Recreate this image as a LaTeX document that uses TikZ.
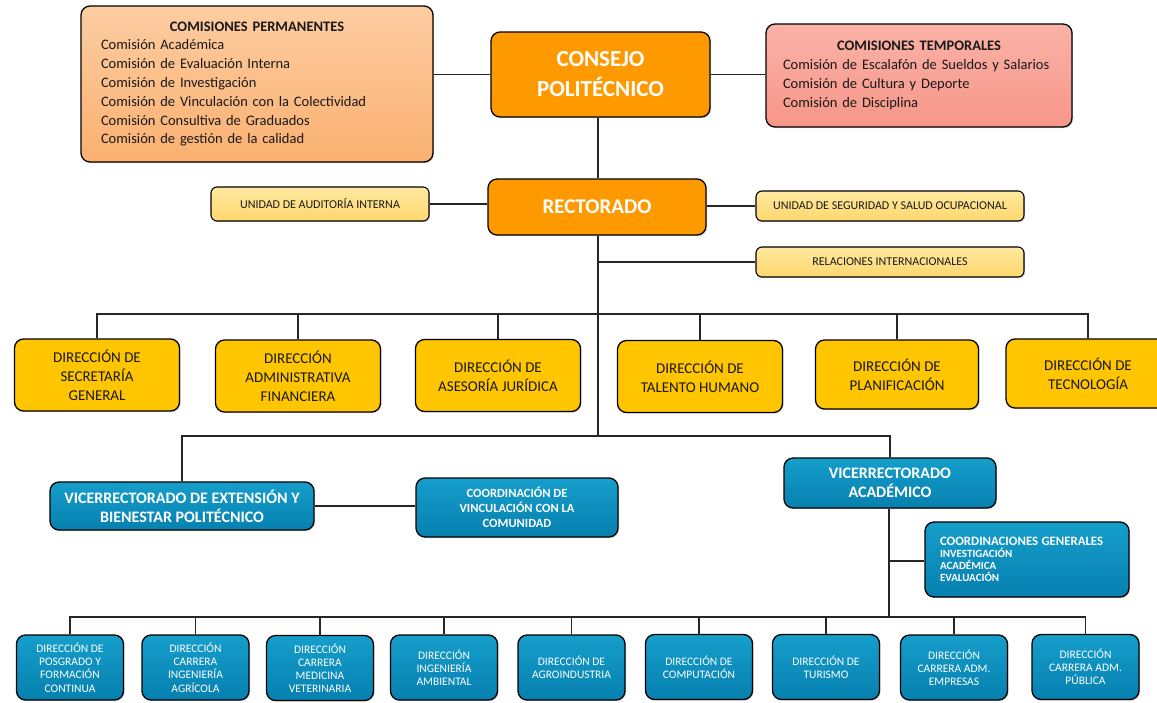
\documentclass[tikz,border=0pt]{standalone}
\usepackage{fontspec}
\setmainfont{Carlito}
\usetikzlibrary{shadows}
\definecolor{permT}{RGB}{253,205,162}
\definecolor{permB}{RGB}{250,176,112}
\definecolor{tempT}{RGB}{251,178,168}
\definecolor{tempB}{RGB}{246,150,136}
\definecolor{orgO}{RGB}{255,153,0}
\definecolor{unitT}{RGB}{255,233,160}
\definecolor{unitB}{RGB}{255,215,110}
\definecolor{gold}{RGB}{255,198,0}
\definecolor{blueT}{RGB}{22,158,203}
\definecolor{blueB}{RGB}{6,128,175}
\definecolor{ink}{RGB}{25,25,25}
\tikzset{
  box/.style={draw=black, line width=1.3pt, rounded corners=9pt, align=center, inner sep=0pt,
    drop shadow={shadow xshift=1.2pt, shadow yshift=-1.2pt, opacity=.3}},
  permbox/.style={box, top color=permT, bottom color=permB, text=ink, align=left,
    font={\fontsize{14.5}{18.8}\selectfont}},
  tempbox/.style={permbox, top color=tempT, bottom color=tempB},
  topbox/.style={box, fill=orgO, text=white},
  unitbox/.style={box, top color=unitT, bottom color=unitB, text=ink, line width=1.1pt, rounded corners=6pt,
    font={\fontsize{12}{14}\selectfont}},
  dirbox/.style={box, fill=gold, text=ink, minimum width=165pt, minimum height=72pt,
    font={\fontsize{15}{19}\selectfont}},
  bluebox/.style={box, top color=blueT, bottom color=blueB, text=white},
  vicebox/.style={bluebox, font={\bfseries\fontsize{16}{19}\selectfont}},
  smallblue/.style={bluebox, minimum width=107pt, minimum height=65pt,
    font={\fontsize{11.5}{13.2}\selectfont}},
  conn/.style={draw=black!85, line width=1.1pt}
}
\begin{document}
\begin{tikzpicture}[x=1pt,y=-1pt]
\useasboundingbox[fill=white] (0,0) rectangle (1157,702);

% top level
\node[permbox, minimum width=352pt, minimum height=156pt, text width=312pt] (perm) at (257,84)
  {\makebox[312pt][c]{\bfseries COMISIONES PERMANENTES}\\
   Comisión Académica\\
   Comisión de Evaluación Interna\\
   Comisión de Investigación\\
   Comisión de Vinculación con la Colectividad\\
   Comisión Consultiva de Graduados\\
   Comisión de gestión de la calidad};
\node[topbox, minimum width=219pt, minimum height=85pt, font={\bfseries\fontsize{23}{30}\selectfont}] (consejo) at (600.5,74.5)
  {CONSEJO\\POLITÉCNICO};
\node[tempbox, minimum width=306pt, minimum height=103pt, text width=272pt] (temp) at (919,75.5)
  {\makebox[272pt][c]{\bfseries COMISIONES TEMPORALES}\\
   Comisión de Escalafón de Sueldos y Salarios\\
   Comisión de Cultura y Deporte\\
   Comisión de Disciplina};

\node[topbox, minimum width=218pt, minimum height=56pt, font={\bfseries\fontsize{21}{24}\selectfont}] (rector) at (597,207) {RECTORADO};
\node[unitbox, minimum width=218pt, minimum height=34pt] (audit) at (320,204) {UNIDAD DE AUDITORÍA INTERNA};
\node[unitbox, minimum width=268pt, minimum height=30pt] (segur) at (890,206) {UNIDAD DE SEGURIDAD Y SALUD OCUPACIONAL};
\node[unitbox, minimum width=268pt, minimum height=30pt] (relac) at (890,262) {RELACIONES INTERNACIONALES};

% direcciones
\node[dirbox] (d1) at (97,375) {DIRECCIÓN DE\\SECRETARÍA\\GENERAL};
\node[dirbox] (d2) at (298,376) {DIRECCIÓN\\ADMINISTRATIVA\\FINANCIERA};
\node[dirbox] (d3) at (498,375.5) {DIRECCIÓN DE\\ASESORÍA JURÍDICA};
\node[dirbox] (d4) at (700,376.5) {DIRECCIÓN DE\\TALENTO HUMANO};
\node[dirbox, minimum width=163pt, minimum height=69pt] (d5) at (897,374.5) {DIRECCIÓN DE\\PLANIFICACIÓN};
\node[dirbox, minimum width=164pt, minimum height=69pt] (d6) at (1088,373.5) {DIRECCIÓN DE\\TECNOLOGÍA};

% vicerrectorados
\node[vicebox, minimum width=264pt, minimum height=48pt] (vext) at (182,506) {VICERRECTORADO DE EXTENSIÓN Y\\BIENESTAR POLITÉCNICO};
\node[bluebox, minimum width=202pt, minimum height=59pt, font={\bfseries\fontsize{12.5}{15}\selectfont}] (cvinc) at (517,507.5)
  {COORDINACIÓN DE\\VINCULACIÓN CON LA\\COMUNIDAD};
\node[vicebox, minimum width=212pt, minimum height=50pt] (vacad) at (890,483) {VICERRECTORADO\\ACADÉMICO};
\node[bluebox, minimum width=204pt, minimum height=75pt, align=left, text width=174pt] (cgen) at (1027,559.5)
  {{\fontsize{12.8}{13.5}\selectfont\bfseries COORDINACIONES GENERALES}\\
   {\fontsize{11}{13.5}\selectfont\bfseries INVESTIGACIÓN}\\
   {\fontsize{11}{13.5}\selectfont\bfseries ACADÉMICA}\\
   {\fontsize{11}{13.5}\selectfont\bfseries EVALUACIÓN}};

% bottom row
\node[smallblue] (b1) at (70,667.5) {DIRECCIÓN DE\\POSGRADO Y\\FORMACIÓN\\CONTINUA};
\node[smallblue] (b2) at (195.5,667.5) {DIRECCIÓN\\CARRERA\\INGENIERÍA\\AGRÍCOLA};
\node[smallblue] (b3) at (320,668) {DIRECCIÓN\\CARRERA\\MEDICINA\\VETERINARIA};
\node[smallblue] (b4) at (444,667.5) {DIRECCIÓN\\INGENIERÍA\\AMBIENTAL};
\node[smallblue] (b5) at (571.5,667.5) {DIRECCIÓN DE\\AGROINDUSTRIA};
\node[smallblue] (b6) at (699,667) {DIRECCIÓN DE\\COMPUTACIÓN};
\node[smallblue] (b7) at (826,667) {DIRECCIÓN DE\\TURISMO};
\node[smallblue] (b8) at (954,667.5) {DIRECCIÓN\\CARRERA ADM.\\EMPRESAS};
\node[smallblue] (b9) at (1085.5,667) {DIRECCIÓN\\CARRERA ADM.\\PÚBLICA};

% junction coordinates
\coordinate (bar1) at (598,314);
\coordinate (bar2) at (598,436);
\coordinate (bar3) at (889,617);
\coordinate (cgj) at (889,561);

% connectors
\draw[conn] (perm.east |- consejo.west) -- (consejo.west);
\draw[conn] (consejo.east) -- (consejo.east -| temp.west);
\draw[conn] (consejo.south -| bar1) -- (rector.north -| bar1);
\draw[conn] (audit.east) -- (audit.east -| rector.west);
\draw[conn] (rector.east |- segur.west) -- (segur.west);
\draw[conn] (rector.south -| bar1) -- (bar2);
\draw[conn] (bar1 |- relac.west) -- (relac.west);
\draw[conn] (d1.north) |- (bar1) -| (d6.north);
\foreach \n in {d2,d3,d4,d5} \draw[conn] (\n.north) -- (\n.north |- bar1);
\draw[conn] (vext.north) |- (bar2) -| (vacad.north);
\draw[conn] (vext.east) -- (vext.east -| cvinc.west);
\draw[conn] (vacad.south -| bar3) -- (bar3);
\draw[conn] (cgj) -- (cgj -| cgen.west);
\draw[conn] (b1.north) |- (bar3) -| (b9.north);
\foreach \n in {b2,b3,b4,b5,b6,b7,b8} \draw[conn] (\n.north) -- (\n.north |- bar3);
\end{tikzpicture}
\end{document}
